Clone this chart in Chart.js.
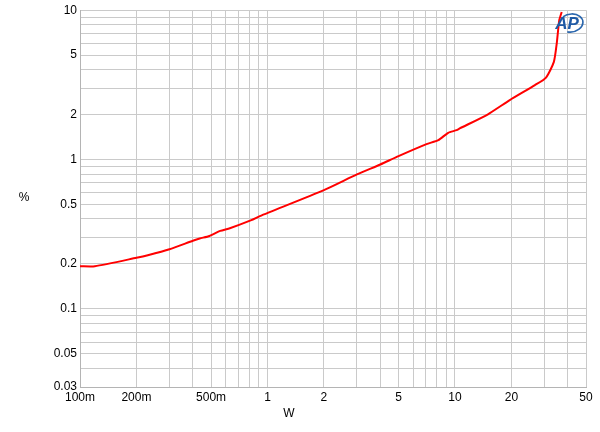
<!DOCTYPE html>
<html><head><meta charset="utf-8">
<script src="https://cdn.jsdelivr.net/npm/chart.js@4/dist/chart.umd.min.js"></script>
<style>html,body{margin:0;padding:0;background:#fff}#wrap{width:600px;height:432px;position:relative}</style>
</head><body><div id="wrap"><canvas id="c" width="600" height="432"></canvas></div>
<script>
// Power (W) and THD+N (%)
const powerW = [0.1, 0.12, 0.2, 0.23, 0.3, 0.4, 0.435, 0.49, 0.56, 0.63, 0.82, 0.91, 2.0, 3.0, 4.0, 5.0, 7.05, 8.15, 9.2, 10.2, 10.6, 15.0, 19.6, 26.7, 30.6, 33.7, 34.9, 36.0, 37.1];
const thdPct = [0.193, 0.193, 0.22, 0.229, 0.251, 0.286, 0.296, 0.308, 0.333, 0.347, 0.393, 0.418, 0.624, 0.795, 0.927, 1.054, 1.268, 1.349, 1.51, 1.573, 1.615, 2.01, 2.5, 3.15, 3.54, 4.51, 5.98, 8.57, 9.74];
const xGrid = [0.1,0.2,0.3,0.4,0.5,0.6,0.7,0.8,0.9,1,2,3,4,5,6,7,8,9,10,20,30,40,50];
const xLabels = {0.1:'100m',0.2:'200m',0.5:'500m',1:'1',2:'2',5:'5',10:'10',20:'20',50:'50'};
const yGrid = [0.03,0.04,0.05,0.06,0.07,0.08,0.09,0.1,0.2,0.3,0.4,0.5,0.6,0.7,0.8,0.9,1,2,3,4,5,6,7,8,9,10];
const yLabels = {0.03:'0.03',0.05:'0.05',0.1:'0.1',0.2:'0.2',0.5:'0.5',1:'1',2:'2',5:'5',10:'10'};
const xTitle = 'W', yTitle = '%', logoText = 'AP';

function lab(map, v){ for (const k in map){ if (Math.abs(+k - v) < 1e-9) return map[k]; } return ''; }

const extras = {
  id: 'extras',
  afterDraw(chart){
    const ctx = chart.ctx, a = chart.chartArea;
    ctx.save();
    ctx.fillStyle = '#000';
    ctx.font = '12px "Liberation Sans", Arial, sans-serif';
    ctx.textAlign = 'center'; ctx.textBaseline = 'middle';
    ctx.fillText(xTitle, (a.left + a.right) / 2 - 44, 414);
    ctx.fillText(yTitle, 24, 198);
    // logo
    ctx.strokeStyle = '#2a66ad'; ctx.lineWidth = 1.6;
    ctx.beginPath(); ctx.ellipse(571, 23, 12, 9, -0.15, -2.2, 2.0); ctx.stroke();
    ctx.fillStyle = '#1f5aa5';
    ctx.font = 'italic bold 17px "Liberation Sans", Arial, sans-serif';
    ctx.fillText(logoText, 567, 24);
    ctx.restore();
  }
};

new Chart(document.getElementById('c'), {
  type: 'line',
  data: { datasets: [{ data: powerW.map((x,i)=>({x, y: thdPct[i]})), borderColor: '#ff0000', borderWidth: 2, pointRadius: 0, tension: 0.2, fill: false }] },
  options: {
    responsive: false, animation: false, devicePixelRatio: 1,
    layout: { padding: { top: 10, right: 14, left: 0, bottom: 0 } },
    plugins: { legend: { display: false }, tooltip: { enabled: false } },
    scales: {
      x: {
        type: 'logarithmic', min: 0.1, max: 50,
        afterBuildTicks: s => { s.ticks = xGrid.map(v => ({ value: v })); },
        afterFit: s => { s.height = 45; },
        ticks: { autoSkip: false, maxRotation: 0, padding: 3, color: '#000', font: { family: '"Liberation Sans", Arial, sans-serif', size: 12 }, callback: v => lab(xLabels, v) },
        grid: { color: '#cacaca', lineWidth: 1, drawTicks: false },
        border: { color: '#b4b4b4' }
      },
      y: {
        type: 'logarithmic', min: 0.03, max: 10,
        afterBuildTicks: s => { s.ticks = yGrid.map(v => ({ value: v })); },
        afterFit: s => { s.width = 80; },
        ticks: { autoSkip: false, padding: 3, color: '#000', font: { family: '"Liberation Sans", Arial, sans-serif', size: 12 }, callback: v => lab(yLabels, v) },
        grid: { color: '#cacaca', lineWidth: 1, drawTicks: false },
        border: { color: '#b4b4b4' }
      }
    }
  },
  plugins: [extras]
});
</script></body></html>
